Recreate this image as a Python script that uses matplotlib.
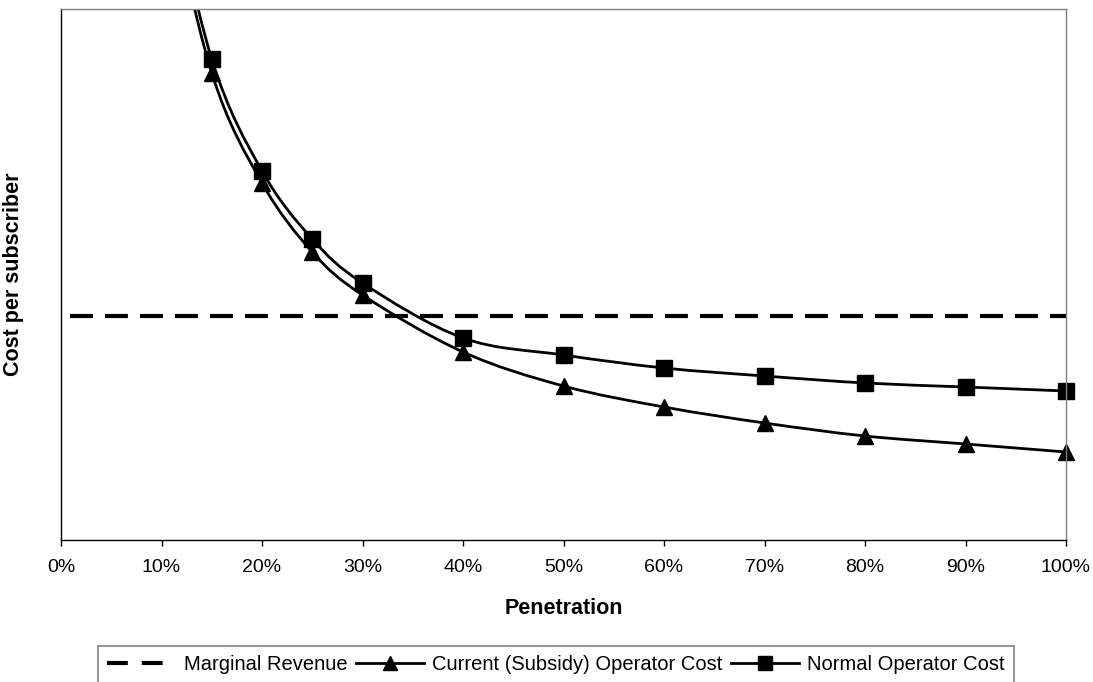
import numpy as np
import matplotlib
matplotlib.use("Agg")
import matplotlib.pyplot as plt
from matplotlib.path import Path
from matplotlib.patches import PathPatch
from matplotlib.lines import Line2D
from matplotlib.ticker import PercentFormatter

plt.rcParams['font.family'] = ['Liberation Sans', 'DejaVu Sans']

# ---- data (arbitrary cost units) ----
penetration = [0.10, 0.15, 0.20, 0.25, 0.30, 0.40, 0.50, 0.60, 0.70, 0.80, 0.90, 1.00]
current_cost = [675, 467, 357, 288, 245, 188, 154, 133, 117, 104, 96, 88]
normal_cost = [690, 481, 369, 301, 257, 202, 185, 172, 164, 157, 153, 149]
marginal_x = [0.0, 1.0]
marginal_revenue = [224, 224]
xticks = [i / 10 for i in range(11)]
labels = ["Marginal Revenue", "Current (Subsidy) Operator Cost", "Normal Operator Cost"]


def smooth_path(xs, ys):
    """Catmull-Rom style cubic Bezier through the points (like Excel smoothing)."""
    pts = np.column_stack([xs, ys]).astype(float)
    n = len(pts)
    verts = [pts[0]]
    codes = [Path.MOVETO]
    for i in range(n - 1):
        p0 = pts[i - 1] if i > 0 else pts[i]
        p1 = pts[i]
        p2 = pts[i + 1]
        p3 = pts[i + 2] if i + 2 < n else pts[i + 1]
        c1 = p1 + (p2 - p0) / 6.0
        c2 = p2 - (p3 - p1) / 6.0
        verts += [c1, c2, p2]
        codes += [Path.CURVE4] * 3
    return Path(verts, codes)


fig = plt.figure(figsize=(10.93, 6.82), dpi=100)
ax = fig.add_axes([61 / 1093, 1 - 540 / 682, 1005 / 1093, 531 / 682])

# marginal revenue dashed line
ax.plot(marginal_x, marginal_revenue, color='black', lw=3,
        linestyle=(6.24, (5.5, 2.9)), dash_capstyle='butt', solid_capstyle='butt')

for vals, mk in [(current_cost, '^'), (normal_cost, 's')]:
    patch = PathPatch(smooth_path(penetration, vals), facecolor='none',
                      edgecolor='black', lw=2)
    ax.add_patch(patch)
    patch.set_clip_path(ax.patch)
    ax.plot(penetration, vals, linestyle='none', marker=mk, ms=11,
            color='black', clip_on=False)

ax.set_xlim(0, 1)
ax.set_ylim(0, 531)
ax.set_xticks(xticks)
ax.xaxis.set_major_formatter(PercentFormatter(1.0, decimals=0))
ax.tick_params(axis='x', direction='out', length=4.5, width=1, labelsize=14,
               pad=9, color='black')
ax.set_yticks([])

for s in ['left', 'bottom']:
    ax.spines[s].set_color('black')
    ax.spines[s].set_linewidth(1)
for s in ['top', 'right']:
    ax.spines[s].set_color('#808080')
    ax.spines[s].set_linewidth(1)

ax.set_xlabel("Penetration", fontsize=15.5, fontweight='bold', va='center')
ax.xaxis.set_label_coords(0.5, (540 - 608) / 531)
ax.set_ylabel("Cost per subscriber", fontsize=15.5, fontweight='bold', va='center')
ax.yaxis.set_label_coords((14 - 61) / 1005, 0.5)

handles = [
    Line2D([], [], color='black', lw=3, linestyle=(0, (5.0, 3.36)), dash_capstyle='butt'),
    Line2D([], [], color='black', lw=2, marker='^', ms=10),
    Line2D([], [], color='black', lw=2, marker='s', ms=10),
]
leg = fig.legend(handles, labels, loc='upper center',
                 bbox_to_anchor=(556 / 1093, 1 - 646 / 682),
                 ncol=3, fontsize=14.5, frameon=True, fancybox=False,
                 handlelength=3.4, handletextpad=0.4, columnspacing=0.4,
                 borderpad=0.45, borderaxespad=0)
leg.get_frame().set_edgecolor('#606060')
leg.get_frame().set_linewidth(1.2)

fig.savefig("out.png", dpi=100)
